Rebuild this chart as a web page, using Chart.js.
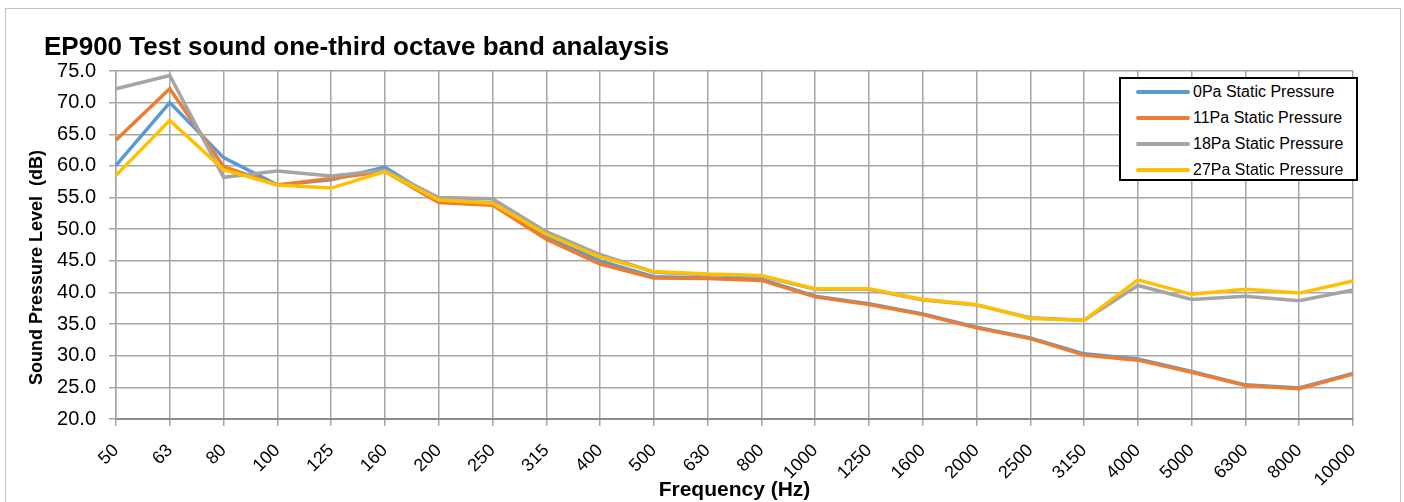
<!DOCTYPE html>
<html>
<head>
<meta charset="utf-8">
<script src="https://cdn.jsdelivr.net/npm/chart.js@4"></script>
<style>
  body { margin: 0; background: #fff; font-family: "Liberation Sans", Arial, sans-serif; }
  #wrap { position: relative; width: 1404px; height: 502px; overflow: hidden; }
  #frame { position: absolute; left: 5px; top: 8px; width: 1396px; height: 520px; border: 1px solid #c0c0c0; box-sizing: border-box; }
  #title { position: absolute; left: 44px; top: 33px; font-size: 26px; line-height: 26px; font-weight: bold; color: #000; white-space: nowrap; }
  #legend { position: absolute; left: 1119px; top: 77px; width: 239px; height: 104px; border: 2px solid #000; background: #fff; box-sizing: border-box; }
  .item { position: relative; height: 26px; font-size: 16px; line-height: 26px; color: #000; }
  .item .swatch { position: absolute; left: 15px; top: 11px; width: 54px; height: 4px; border-radius: 2px; }
  .item .txt { position: absolute; left: 72px; top: 0; white-space: nowrap; }
  canvas { position: absolute; left: 0; top: 0; }
</style>
</head>
<body>
<div id="wrap">
  <div id="frame"></div>
  <canvas id="chart" width="1404" height="502"></canvas>
  <div id="title">EP900 Test sound one-third octave band analaysis</div>
  <div id="legend"></div>
</div>
<script>
// one-third octave band centres (Hz)
var bands = ['50', '63', '80', '100', '125', '160', '200', '250', '315', '400', '500', '630', '800',
  '1000', '1250', '1600', '2000', '2500', '3150', '4000', '5000', '6300', '8000', '10000'];

// sound pressure level (dB) per static pressure
var pa0  = [60.1, 70.0, 61.3, 57.0, 57.8, 59.8, 54.5, 54.2, 48.8, 45.0, 42.5, 42.3, 42.1,
  39.4, 38.2, 36.6, 34.5, 32.8, 30.3, 29.5, 27.5, 25.4, 24.9, 27.2];
var pa11 = [64.1, 72.2, 59.9, 57.0, 58.0, 59.1, 54.2, 53.8, 48.4, 44.5, 42.3, 42.2, 41.9,
  39.3, 38.1, 36.5, 34.4, 32.7, 30.1, 29.3, 27.4, 25.3, 24.8, 27.1];
var pa18 = [72.2, 74.3, 58.2, 59.2, 58.4, 59.3, 55.0, 54.8, 49.6, 46.0, 43.2, 42.8, 42.6,
  40.5, 40.5, 38.8, 38.0, 36.0, 35.6, 41.1, 38.9, 39.4, 38.7, 40.4];
var pa27 = [58.5, 67.2, 59.4, 57.0, 56.5, 59.1, 54.6, 54.1, 49.2, 45.6, 43.3, 42.9, 42.7,
  40.6, 40.6, 38.9, 38.1, 35.9, 35.6, 42.0, 39.7, 40.5, 39.9, 41.8];

var seriesNames = ['0Pa Static Pressure', '11Pa Static Pressure', '18Pa Static Pressure', '27Pa Static Pressure'];
var seriesData = [pa0, pa11, pa18, pa27];
var seriesColors = ['#5b9bd5', '#ed7d31', '#a5a5a5', '#ffc000'];

var yMin = 20, yMax = 75, yStep = 5;

var datasets = seriesNames.map(function(name, i) {
  return {
    label: name,
    data: seriesData[i],
    borderColor: seriesColors[i],
    backgroundColor: seriesColors[i],
    borderWidth: 3.5,
    pointRadius: 0,
    tension: 0,
    order: seriesNames.length - i   // later series drawn on top
  };
});

// legend box (Excel style, inside plot)
var legend = document.getElementById('legend');
seriesNames.forEach(function(name, i) {
  var row = document.createElement('div');
  row.className = 'item';
  row.innerHTML = '<span class="swatch" style="background:' + seriesColors[i] + '"></span><span class="txt"></span>';
  row.querySelector('.txt').textContent = name;
  legend.appendChild(row);
});

var PAD_LEFT = 18;
var gridColor = '#a6a6a6';
var fontFamily = '"Liberation Sans", Arial, sans-serif';

new Chart(document.getElementById('chart'), {
  type: 'line',
  data: { labels: bands, datasets: datasets },
  options: {
    responsive: false, animation: false,
    layout: { padding: { left: PAD_LEFT, right: 51, top: 71, bottom: 0 } },
    plugins: { legend: { display: false }, title: { display: false }, tooltip: { enabled: false } },
    scales: {
      x: {
        offset: false,
        grid: { color: gridColor, lineWidth: 1.5, tickLength: 7 },
        border: { color: '#8c8c8c', width: 2 },
        ticks: { color: '#000', font: { family: fontFamily, size: 18 }, minRotation: 45, maxRotation: 45, autoSkip: false, padding: 14 },
        title: { display: true, text: 'Frequency (Hz)', color: '#000', font: { family: fontFamily, size: 21, weight: 'bold' }, padding: { top: 0, bottom: -1 } },
        afterFit: function(s) { s.height = 502 - 419; }
      },
      y: {
        min: yMin, max: yMax,
        grid: { color: gridColor, lineWidth: 1.5, tickLength: 7 },
        border: { color: gridColor, width: 1.5 },
        ticks: { stepSize: yStep, color: '#000', font: { family: fontFamily, size: 20 }, padding: 13,
          callback: function(v) { return v.toFixed(1); } },
        title: { display: true, text: 'Sound Pressure Level  (dB)         ', color: '#000', font: { family: fontFamily, size: 18, weight: 'bold' }, padding: { top: 8, bottom: 0 } },
        afterFit: function(s) { s.width = 116 - PAD_LEFT; }
      }
    }
  }
});
</script>
</body>
</html>
